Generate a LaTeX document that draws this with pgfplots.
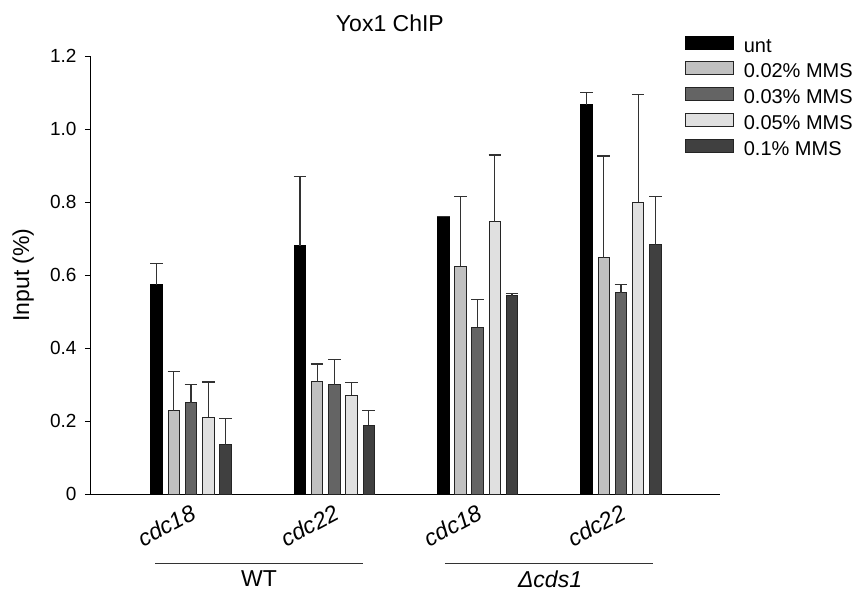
\documentclass[border=0pt]{standalone}
\usepackage{fontspec}
\setmainfont{Liberation Sans}
\usepackage{pgfplots}
\pgfplotsset{compat=1.18}

\definecolor{cUnt}{RGB}{0,0,0}
\definecolor{cA}{RGB}{192,192,192}
\definecolor{cB}{RGB}{100,100,100}
\definecolor{cC}{RGB}{224,224,224}
\definecolor{cD}{RGB}{64,64,64}
\definecolor{edge}{RGB}{36,36,36}
\definecolor{errc}{RGB}{50,50,50}

\begin{document}
\begin{tikzpicture}
\useasboundingbox (-90pt,-98pt) rectangle (771pt,494pt);
\begin{axis}[
  at={(0,0)}, anchor=south west,
  scale only axis, width=630pt, height=438pt,
  xmin=0.295, xmax=4.691, ymin=0, ymax=1.2,
  axis x line*=bottom, axis y line*=left,
  axis line style={-, line width=0.9pt, black},
  clip=false,
  ybar, bar width=0.08,
  xtick={1,2,3,4},
  xticklabels={cdc18,cdc22,cdc18,cdc22},
  x tick style={draw=none},
  xticklabel style={rotate=28, anchor=north east, font=\itshape\fontsize{23}{27}\selectfont},
  ytick={0,0.2,0.4,0.6,0.8,1.0,1.2},
  yticklabels={0,0.2,0.4,0.6,0.8,1.0,1.2},
  y tick style={line width=0.9pt, black},
  tick align=outside, major tick length=5pt,
  yticklabel style={font=\fontsize{19}{22}\selectfont, text=black, xshift=-5pt},
  /pgf/number format/assume math mode=true,
  ylabel={Input (\%)},
  ylabel style={at={(axis description cs:-0.106,0.5)}, anchor=center,
    font=\fontsize{23}{27}\selectfont},
  legend style={at={(0.944,1.047)}, anchor=north west, draw=none, fill=none,
    inner sep=0pt, row sep=7.4pt,
    font=\fontsize{20}{24}\selectfont,
    nodes={inner sep=0pt, text height=14pt, text depth=2pt},
    /tikz/every odd column/.append style={column sep=10pt}},
  legend cell align=left,
  legend image code/.code={\draw[#1, line width=0.9pt] (0pt,-3pt) rectangle (48pt,10pt);},
  error bars/error bar style={line width=1.2pt, errc},
  error bars/error mark options={line width=1.2pt, errc, mark size=6.3pt, rotate=90},
]
% unt
\addplot[fill=cUnt, draw=black, line width=0.9pt, bar shift=-0.24,
  error bars/.cd, y dir=plus, y explicit] coordinates {
  (1,0.573) +- (0,0.059)
  (2,0.680) +- (0,0.190)
  (3,0.758) +- (0,0.003)
  (4,1.066) +- (0,0.034)
};
% 0.02% MMS
\addplot[fill=cA, draw=edge, line width=0.9pt, bar shift=-0.12,
  error bars/.cd, y dir=plus, y explicit] coordinates {
  (1,0.228) +- (0,0.108)
  (2,0.307) +- (0,0.049)
  (3,0.624) +- (0,0.190)
  (4,0.647) +- (0,0.279)
};
% 0.03% MMS
\addplot[fill=cB, draw=edge, line width=0.9pt, bar shift=0,
  error bars/.cd, y dir=plus, y explicit] coordinates {
  (1,0.250) +- (0,0.050)
  (2,0.300) +- (0,0.068)
  (3,0.457) +- (0,0.075)
  (4,0.551) +- (0,0.024)
};
% 0.05% MMS
\addplot[fill=cC, draw=edge, line width=0.9pt, bar shift=0.12,
  error bars/.cd, y dir=plus, y explicit] coordinates {
  (1,0.210) +- (0,0.097)
  (2,0.270) +- (0,0.036)
  (3,0.746) +- (0,0.183)
  (4,0.800) +- (0,0.294)
};
% 0.1% MMS
\addplot[fill=cD, draw=edge, line width=0.9pt, bar shift=0.24,
  error bars/.cd, y dir=plus, y explicit] coordinates {
  (1,0.135) +- (0,0.071)
  (2,0.189) +- (0,0.039)
  (3,0.543) +- (0,0.007)
  (4,0.683) +- (0,0.131)
};
\legend{unt, 0.02\% MMS, 0.03\% MMS, 0.05\% MMS, 0.1\% MMS}

\node[font=\fontsize{23}{27}\selectfont] at (rel axis cs:0.476,1.075) {Yox1 ChIP};
% strain labels
\draw[line width=0.9pt, black!80] ([yshift=-69pt]axis cs:0.749,0) -- ([yshift=-69pt]axis cs:2.2,0);
\draw[line width=0.9pt, black!80] ([yshift=-69pt]axis cs:2.772,0) -- ([yshift=-69pt]axis cs:4.224,0);
\node[font=\fontsize{23}{27}\selectfont] at ([yshift=-85pt]axis cs:1.475,0) {WT};
\node[font=\itshape\fontsize{23}{27}\selectfont] at ([yshift=-85pt]axis cs:3.505,0) {Δcds1};
\end{axis}
\end{tikzpicture}
\end{document}
